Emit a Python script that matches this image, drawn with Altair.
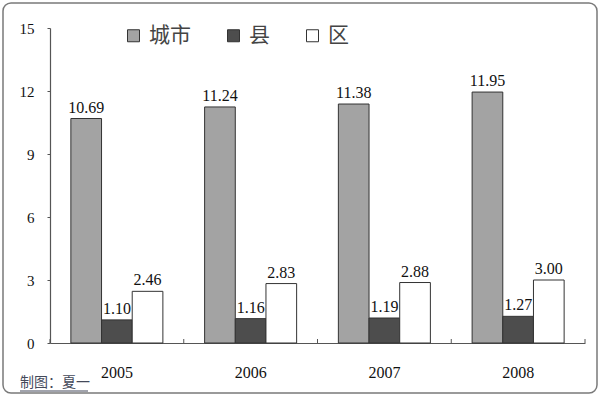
import altair as alt
import pandas as pd

years = ["2005", "2006", "2007", "2008"]
series = ["城市", "县", "区"]
city = [10.69, 11.24, 11.38, 11.95]
county = [1.10, 1.16, 1.19, 1.27]
district = [2.46, 2.83, 2.88, 3.00]
colors = ["#a3a3a3", "#4d4d4d", "#ffffff"]
y_ticks = [0, 3, 6, 9, 12, 15]
footer = "制图：夏一"

rows = []
for s, vals in zip(series, [city, county, district]):
    for yr, v in zip(years, vals):
        rows.append({"year": yr, "series": s, "value": v})
df = pd.DataFrame(rows)

W, H = 535, 315
serif = "Liberation Serif"

x_scale = alt.Scale(paddingInner=0, paddingOuter=0)
x_axis = alt.Axis(labelAngle=0, ticks=False, domainColor="#555555",
                  domainWidth=1.2, labelFont=serif, labelFontSize=16,
                  labelColor="#111111", labelPadding=21)
y_axis = alt.Axis(values=y_ticks, grid=False, domainColor="#555555",
                  domainWidth=1.2, tickColor="#555555", tickSize=3,
                  labelFont=serif, labelFontSize=15, labelColor="#111111",
                  labelPadding=13)
xo = alt.XOffset("series:N", sort=series,
                 scale=alt.Scale(domain=series, paddingOuter=0.68, paddingInner=0))
y_enc = alt.Y("value:Q", scale=alt.Scale(domain=[0, 15], nice=False), title=None, axis=y_axis)

bars = alt.Chart(df).mark_bar(stroke="#333333", strokeWidth=1).encode(
    x=alt.X("year:N", sort=years, scale=x_scale, title=None, axis=x_axis),
    xOffset=xo,
    y=y_enc,
    color=alt.Color("series:N", sort=series,
                    scale=alt.Scale(domain=series, range=colors),
                    legend=alt.Legend(title=None, orient="none", legendX=73, legendY=-3,
                                      direction="horizontal", symbolType="square",
                                      symbolSize=144, symbolStrokeColor="#333333",
                                      symbolStrokeWidth=1, labelFont="Noto Sans CJK SC",
                                      labelFontSize=21, labelColor="#444444",
                                      labelOffset=5, columnPadding=32, padding=0)),
)

labels = alt.Chart(df).mark_text(font=serif, fontSize=16, color="#111111",
                                 baseline="bottom", dy=-3).encode(
    x=alt.X("year:N", sort=years, scale=x_scale, title=None, axis=x_axis),
    xOffset=xo,
    y=y_enc,
    text=alt.Text("value:Q", format=".2f"),
)

one = pd.DataFrame({"a": [0]})
tick_df = pd.DataFrame({"year": years})
xticks = alt.Chart(tick_df).mark_rule(color="#555555", strokeWidth=1).encode(
    x=alt.X("year:N", sort=years, scale=x_scale, bandPosition=0, title=None, axis=x_axis),
    y=alt.value(H - 4), y2=alt.value(H),
)
last_tick = alt.Chart(one).mark_rule(color="#555555", strokeWidth=1).encode(
    x=alt.value(W), y=alt.value(H - 4), y2=alt.value(H))

foot = alt.Chart(one).mark_text(font="Noto Sans CJK SC", fontSize=14, color="#44495a",
                                align="left", baseline="middle").encode(
    x=alt.value(-30), y=alt.value(355), text=alt.value(footer))
underline = alt.Chart(one).mark_rule(color="#44495a", strokeWidth=1).encode(
    x=alt.value(-30), x2=alt.value(38), y=alt.value(363))

frame = alt.Chart(one).mark_rect(filled=False, stroke="#7a7a7a", strokeWidth=1.5,
                                 cornerRadius=8).encode(
    x=alt.value(-47), x2=alt.value(547), y=alt.value(-25), y2=alt.value(365))

chart = alt.layer(bars, labels, xticks, last_tick, foot, underline, frame).properties(
    width=W, height=H,
    autosize=alt.AutoSizeParams(type="none"),
    padding={"left": 50, "top": 28, "right": 15, "bottom": 53},
    background="white",
).configure_view(stroke=None)

chart.save("out.html", embed_options={"renderer": "svg", "actions": False})
